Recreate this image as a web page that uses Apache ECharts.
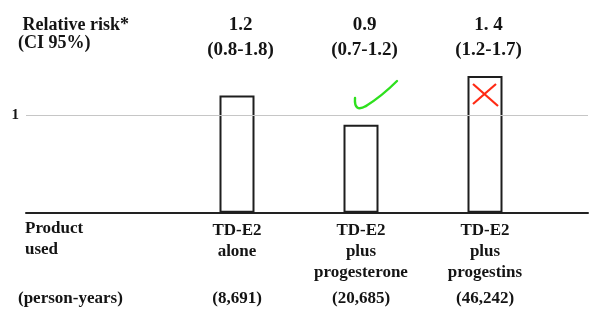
<!DOCTYPE html>
<html>
<head>
<meta charset="utf-8">
<script src="https://cdn.jsdelivr.net/npm/echarts@6/dist/echarts.min.js"></script>
<style>
  html, body { margin: 0; padding: 0; background: #fff; }
  #chart { width: 606px; height: 331px; }
</style>
</head>
<body>
<div id="chart"></div>
<script>
// Products compared, with relative risk, 95% CI and follow-up
const products = ['TD-E2\nalone', 'TD-E2\nplus\nprogesterone', 'TD-E2\nplus\nprogestins'];
const relativeRisk = [1.2, 0.9, 1.4];
const riskText = ['1.2', '0.9', '1. 4'];
const ciText = ['(0.8-1.8)', '(0.7-1.2)', '(1.2-1.7)'];
const personYears = ['(8,691)', '(20,685)', '(46,242)'];
const referenceRisk = 1;
const yTicks = [1];

const SERIF = '"Liberation Serif", "Times New Roman", serif';
const INK = '#141414';

const chart = echarts.init(document.getElementById('chart'), null, { renderer: 'canvas' });

const hiddenAxisParts = {
  axisLine: { show: false },
  axisTick: { show: false },
  splitLine: { show: false }
};

const tickStroke = { fill: 'none', stroke: '#2ee01e', lineWidth: 2.4, lineCap: 'round' };
const crossStroke = { stroke: '#ff2a14', lineWidth: 2.2 };

chart.setOption({
  animation: false,
  backgroundColor: '#fff',
  grid: [
    // full-width frame: baseline and reference line
    { left: 26, right: 18, top: 56.4, bottom: 118.3 },
    // bar area
    { left: 175, right: 59, top: 56.4, bottom: 118.3 }
  ],
  xAxis: [
    {
      gridIndex: 0, type: 'value', min: 0, max: 1,
      axisLine: { show: true, onZero: false, lineStyle: { color: '#222', width: 2 } },
      axisTick: { show: false }, axisLabel: { show: false }, splitLine: { show: false }
    },
    {
      gridIndex: 1, type: 'category', data: products, position: 'bottom',
      ...hiddenAxisParts,
      axisLabel: {
        interval: 0, margin: 7, color: INK, fontFamily: SERIF,
        fontWeight: 'bold', fontSize: 17, lineHeight: 21
      }
    },
    {
      gridIndex: 1, type: 'category', data: personYears, position: 'bottom', offset: 68,
      ...hiddenAxisParts,
      axisLabel: {
        interval: 0, margin: 7, color: INK, fontFamily: SERIF,
        fontWeight: 'bold', fontSize: 17, lineHeight: 21
      }
    },
    {
      gridIndex: 1, type: 'category', position: 'top',
      data: riskText.map((r, i) => r + '\n' + ciText[i]),
      ...hiddenAxisParts,
      axisLabel: {
        interval: 0, margin: -6, color: INK, fontFamily: SERIF,
        fontWeight: 'bold', fontSize: 19, lineHeight: 25, padding: [0, 0, 0, 7]
      }
    }
  ],
  yAxis: [
    {
      gridIndex: 0, type: 'value', min: 0, max: 1.6, interval: 1,
      ...hiddenAxisParts,
      axisLabel: {
        margin: 7, color: INK, fontFamily: SERIF, fontWeight: 'bold', fontSize: 15,
        formatter: v => (yTicks.indexOf(v) >= 0 ? String(v) : '')
      }
    },
    { gridIndex: 1, type: 'value', min: 0, max: 1.6, show: false }
  ],
  series: [
    {
      type: 'line', xAxisIndex: 0, yAxisIndex: 0, data: [], silent: true,
      markLine: {
        silent: true, symbol: 'none', label: { show: false },
        lineStyle: { color: '#c6c6c6', width: 1.2, type: 'solid' },
        data: [{ yAxis: referenceRisk }]
      },
      z: 1
    },
    {
      type: 'bar', xAxisIndex: 1, yAxisIndex: 1, data: relativeRisk, barWidth: 35,
      itemStyle: { color: '#fff', borderColor: '#1e1e1e', borderWidth: 2 },
      z: 3
    }
  ],
  graphic: [
    { type: 'text', x: 22.5, y: 25, style: { text: 'Relative risk*', font: 'bold 18px ' + SERIF, fill: INK, verticalAlign: 'middle' } },
    { type: 'text', x: 18, y: 43, style: { text: '(CI 95%)', font: 'bold 18px ' + SERIF, fill: INK, verticalAlign: 'middle' } },
    { type: 'text', x: 25, y: 229, style: { text: 'Product', font: 'bold 17px ' + SERIF, fill: INK, verticalAlign: 'middle' } },
    { type: 'text', x: 25, y: 250, style: { text: 'used', font: 'bold 17px ' + SERIF, fill: INK, verticalAlign: 'middle' } },
    { type: 'text', x: 18, y: 299, style: { text: '(person-years)', font: 'bold 17px ' + SERIF, fill: INK, verticalAlign: 'middle' } },
    // green tick beside the progesterone bar
    { type: 'bezierCurve', z: 10, shape: { x1: 355, y1: 98, cpx1: 354, cpy1: 113, x2: 366, y2: 106 }, style: tickStroke },
    { type: 'bezierCurve', z: 10, shape: { x1: 366, y1: 106, cpx1: 382, cpy1: 96, x2: 397, y2: 81 }, style: tickStroke },
    // red cross inside the progestins bar
    { type: 'line', z: 10, shape: { x1: 473, y1: 84, x2: 498, y2: 106 }, style: crossStroke },
    { type: 'line', z: 10, shape: { x1: 496, y1: 84, x2: 473, y2: 104 }, style: crossStroke }
  ]
});
</script>
</body>
</html>
